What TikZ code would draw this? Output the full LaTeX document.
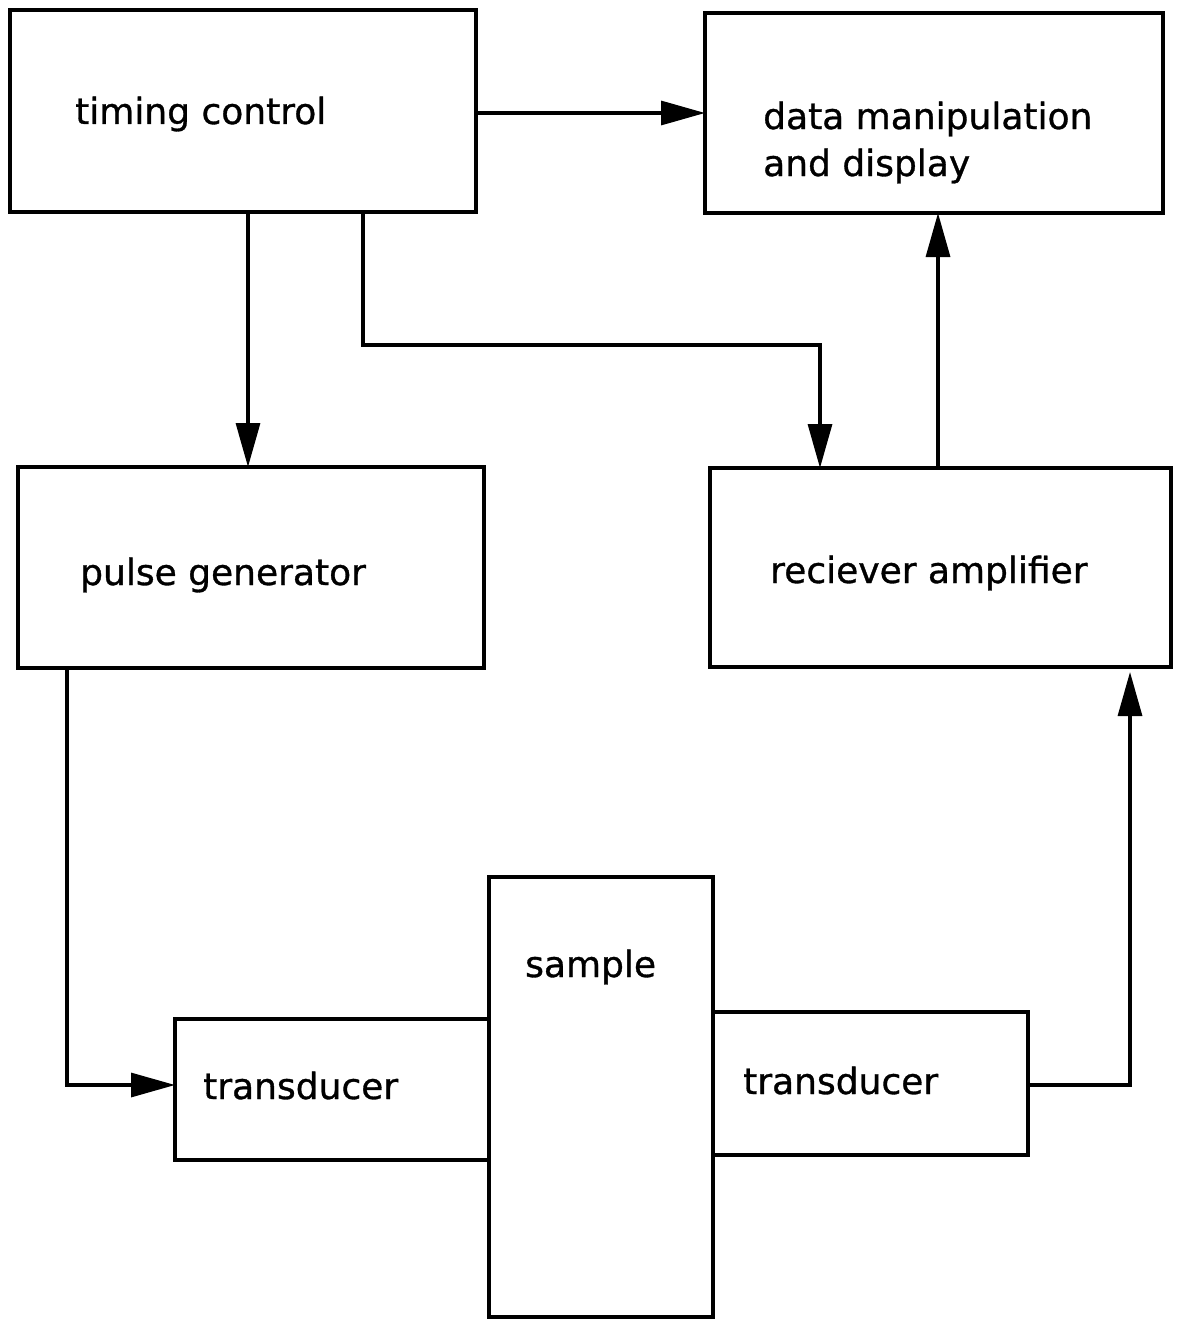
\documentclass[tikz,border=0pt]{standalone}
\usepackage{fontspec}
\setmainfont{DejaVu Sans}
\newfontfamily\lblfont[RawFeature={embolden=0.9}]{DejaVu Sans}
\usetikzlibrary{arrows.meta}
\begin{document}
\begin{tikzpicture}[x=1pt,y=-1pt,
  blk/.style={draw,line width=3.8pt,inner sep=0pt,outer sep=0pt},
  lbl/.style={anchor=base west,inner sep=0pt,font=\lblfont\fontsize{36}{47}\selectfont},
  arr/.style={line width=3.2pt,-{Triangle[length=44pt,width=24pt]}},
  ln/.style={line width=3.2pt}]
\useasboundingbox (0,0) rectangle (1178,1319);
% boxes
\node[blk,minimum width=466pt,minimum height=202pt] (tc) at (243,111) {};
\node[blk,minimum width=458pt,minimum height=200pt] (dm) at (934,113) {};
\node[blk,minimum width=466pt,minimum height=201pt] (pg) at (251,567.5) {};
\node[blk,minimum width=461pt,minimum height=199pt] (ra) at (940.5,567.5) {};
\node[blk,minimum width=224pt,minimum height=440pt] (sm) at (601,1097) {};
\node[blk,minimum width=314pt,minimum height=141pt] (tl) at (332,1089.5) {};
\node[blk,minimum width=315pt,minimum height=143pt] (tr) at (870.5,1083.5) {};
% labels
\node[lbl] (ltc) at (75,124) {timing control};
\node[lbl] (ldm1) at (763,129) {data manipulation};
\node[lbl] (ldm2) at (763,176) {and display};
\node[lbl] (lpg) at (80,585) {pulse generator};
\node[lbl] (lra) at (770,583) {reciever amplifier};
\node[lbl] (lsm) at (525,977) {sample};
\node[lbl] (ltl) at (203,1099) {transducer};
\node[lbl] (ltr) at (743,1094) {transducer};
% connectors
\draw[arr] (tc.east |- 0,113) -- (dm.west |- 0,113);
\draw[arr] (tc.south -| 248,0) -- (pg.north -| 248,0);
\draw[arr] (tc.south -| 363,0) |- (820,345) -- (ra.north -| 820,0);
\draw[arr] (ra.north -| 938,0) -- (dm.south -| 938,0);
\draw[arr] (pg.south -| 67,0) |- (tl.west |- 0,1085);
\draw[arr,shorten >=5pt] (tr.east |- 0,1085) -| (ra.south -| 1130,0);
\end{tikzpicture}
\end{document}
